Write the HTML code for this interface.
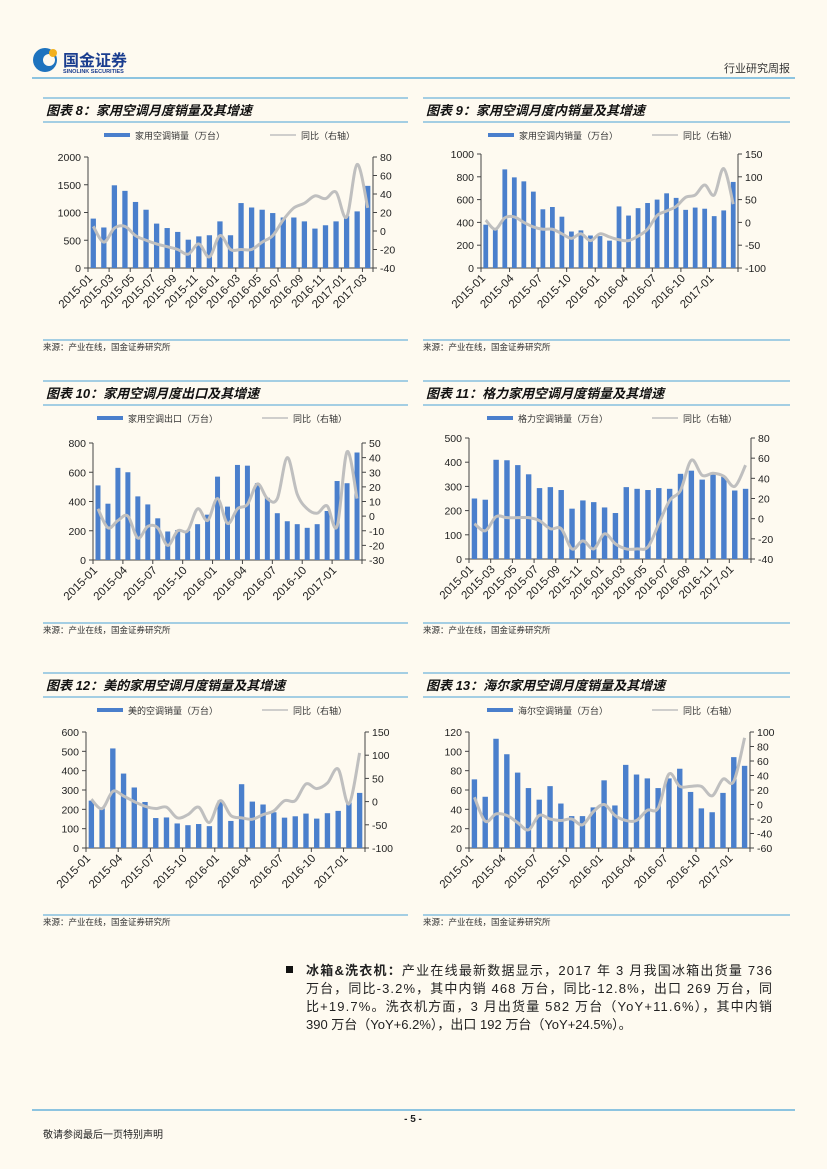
<!DOCTYPE html>
<html><head><meta charset="utf-8">
<style>
body{margin:0;background:#fefaf0;}
#page{position:relative;width:827px;height:1169px;background:#fefaf0;font-family:"Liberation Sans","Noto Sans CJK SC",sans-serif;overflow:hidden}
svg text{font-family:"Liberation Sans","Noto Sans CJK SC",sans-serif}
</style></head>
<body>
<div id="page">
<svg id="svg" width="827" height="1169">
 <g>
  <circle cx="45" cy="60" r="12" fill="#1e73be"/>
  <circle cx="49" cy="60" r="6" fill="#fefaf0"/>
  <circle cx="53" cy="53" r="4" fill="#f2b01e"/>
  <text x="63" y="66" font-size="16" font-weight="bold" fill="#1a3d8f">国金证券</text>
  <text x="63" y="73" font-size="5.5" font-weight="bold" fill="#1a3d8f">SINOLINK SECURITIES</text>
  <text x="790" y="72" font-size="11" text-anchor="end" fill="#333">行业研究周报</text>
  <line x1="32" y1="78" x2="795" y2="78" stroke="#4aa3d6" stroke-width="1.2"/>
 </g>
 <g id="charts"></g>
 <g font-size="13" fill="#222">
  <rect x="286" y="966" width="7" height="7" fill="#111"/>
  <text x="306" y="975" textLength="466" lengthAdjust="spacing"><tspan font-weight="bold">冰箱&amp;洗衣机：</tspan>产业在线最新数据显示，2017 年 3 月我国冰箱出货量 736</text>
  <text x="306" y="993" textLength="466" lengthAdjust="spacing">万台，同比-3.2%，其中内销 468 万台，同比-12.8%，出口 269 万台，同</text>
  <text x="306" y="1011" textLength="466" lengthAdjust="spacing">比+19.7%。洗衣机方面，3 月出货量 582 万台（YoY+11.6%），其中内销</text>
  <text x="306" y="1029">390 万台（YoY+6.2%），出口 192 万台（YoY+24.5%）。</text>
 </g>
 <g>
  <line x1="32" y1="1110" x2="795" y2="1110" stroke="#4aa3d6" stroke-width="1.2"/>
  <text x="413" y="1122" font-size="10" font-weight="bold" text-anchor="middle" fill="#222">- 5 -</text>
  <text x="43" y="1138" font-size="10" fill="#222">敬请参阅最后一页特别声明</text>
 </g>
</svg>
</div>
<script>
const months27=["2015-01","2015-02","2015-03","2015-04","2015-05","2015-06","2015-07","2015-08","2015-09","2015-10","2015-11","2015-12","2016-01","2016-02","2016-03","2016-04","2016-05","2016-06","2016-07","2016-08","2016-09","2016-10","2016-11","2016-12","2017-01","2017-02","2017-03"];
const months26=months27.slice(0,26);
const bars8=[890,730,1490,1390,1190,1050,800,720,650,510,570,590,840,590,1170,1090,1050,990,910,910,840,710,770,840,940,1020,1480];
const yoy8=[5,-12,3,5,-5,-10,-14,-17,-20,-25,-14,-28,-5,-20,-20,-20,-12,-5,12,25,30,38,35,42,15,72,25];
const bars9=[380,340,865,795,760,670,515,535,450,320,330,285,280,240,540,460,525,570,600,655,615,510,530,520,455,505,755];
const yoy9=[5,-15,10,12,0,-10,-15,-15,-25,-35,-25,-40,-25,-32,-38,-40,-30,-15,15,25,35,55,60,82,60,118,40];
const bars10=[510,385,630,600,435,380,285,195,205,200,245,310,570,365,650,645,525,425,320,265,245,220,245,335,540,525,735];
const yoy10=[5,-8,-3,0,-15,-7,-8,-20,-10,-10,5,-3,12,-5,5,8,22,12,12,40,15,5,2,7,-7,44,12];
const bars11=[250,245,410,408,388,350,293,297,285,208,242,235,213,190,297,290,285,293,290,352,365,328,350,340,283,290];
const yoy11=[-5,-12,2,1,1,1,-2,-10,-10,-30,-22,-30,-15,-25,-30,-30,-28,-5,18,28,58,43,45,42,32,53];
const bars12=[245,205,515,385,313,238,155,158,127,118,124,113,245,140,330,240,225,185,157,164,178,152,180,192,235,285];
const yoy12=[5,-15,22,12,0,-10,-15,-12,-35,-28,-12,-45,2,-30,-35,-38,-28,-20,2,2,38,28,40,70,-5,105];
const bars13=[71,53,113,97,78,62,50,64,46,33,33,42,70,44,86,76,72,62,72,82,58,41,37,57,94,85];
const yoy13=[10,-23,-13,-15,-25,-35,-15,-20,-22,-20,-28,-10,0,-15,-22,-22,-8,-5,42,25,25,25,12,35,32,92];

const NS="http://www.w3.org/2000/svg";
const root=document.getElementById('charts');
function el(tag,attrs,parent,txt){const e=document.createElementNS(NS,tag);for(const k in attrs)e.setAttribute(k,attrs[k]);if(txt!==undefined)e.textContent=txt;(parent||root).appendChild(e);return e;}

const charts=[
 {title:"图表 8：家用空调月度销量及其增速",bl:"家用空调销量（万台）",px:43,pw:365,ty:98,L:88,R:373,T:157,B:268,lmax:2000,lstep:500,rmin:-40,rmax:80,rstep:20,cats:months27,bars:bars8,yoy:yoy8,every:2,lgx:104,llx:270},
 {title:"图表 9：家用空调月度内销量及其增速",bl:"家用空调内销量（万台）",px:423,pw:367,ty:98,L:481,R:738,T:154,B:268,lmax:1000,lstep:200,rmin:-100,rmax:150,rstep:50,cats:months27,bars:bars9,yoy:yoy9,every:3,lgx:488,llx:652},
 {title:"图表 10：家用空调月度出口及其增速",bl:"家用空调出口（万台）",px:43,pw:365,ty:381,L:93,R:362,T:443,B:560,lmax:800,lstep:200,rmin:-30,rmax:50,rstep:10,cats:months27,bars:bars10,yoy:yoy10,every:3,lgx:97,llx:262},
 {title:"图表 11：格力家用空调月度销量及其增速",bl:"格力空调销量（万台）",px:423,pw:367,ty:381,L:469,R:751,T:438,B:559,lmax:500,lstep:100,rmin:-40,rmax:80,rstep:20,cats:months26,bars:bars11,yoy:yoy11,every:2,lgx:487,llx:652},
 {title:"图表 12：美的家用空调月度销量及其增速",bl:"美的空调销量（万台）",px:43,pw:365,ty:673,L:86,R:365,T:732,B:848,lmax:600,lstep:100,rmin:-100,rmax:150,rstep:50,cats:months26,bars:bars12,yoy:yoy12,every:3,lgx:97,llx:262},
 {title:"图表 13：海尔家用空调月度销量及其增速",bl:"海尔空调销量（万台）",px:423,pw:367,ty:673,L:469,R:750,T:732,B:848,lmax:120,lstep:20,rmin:-60,rmax:100,rstep:20,cats:months26,bars:bars13,yoy:yoy13,every:3,lgx:487,llx:652}
];

charts.forEach((c,ci)=>{
 const g=el('g',{});
 
 
 const ln=(x1,y1,x2,y2,s,w)=>el('line',{x1,y1,x2,y2,stroke:s,'stroke-width':w},g);
 ln(c.px,c.ty,c.px+c.pw,c.ty,'#4aa3d6',1);
 ln(c.px,c.ty+24,c.px+c.pw,c.ty+24,'#4aa3d6',1);
 const t=el('text',{x:c.px+3,y:c.ty+17,'font-size':13,'font-weight':'bold','font-style':'italic',fill:'#111'},g,c.title);
 
 
 const lg=el('g',{},g);
 
 
 el('rect',{x:c.lgx,y:c.ty+35,width:26,height:4,fill:'#4a7fcc'},lg);
 el('text',{x:c.lgx+31,y:c.ty+41,'font-size':9,fill:'#333'},lg,c.bl);
 el('line',{x1:c.llx,y1:c.ty+37,x2:c.llx+26,y2:c.ty+37,stroke:'#bfbfbf','stroke-width':1.5},lg);
 el('text',{x:c.llx+31,y:c.ty+41,'font-size':9,fill:'#333'},lg,"同比（右轴）");
 const n=c.cats.length, slot=(c.R-c.L)/n;
 const yL=v=>c.B-(v/c.lmax)*(c.B-c.T);
 const yR=v=>c.B-((v-c.rmin)/(c.rmax-c.rmin))*(c.B-c.T);
 const xC=i=>c.L+slot*(i+0.5);
 ln(c.L,c.T,c.L,c.B,'#444',1); ln(c.R,c.T,c.R,c.B,'#444',1); ln(c.L,c.B,c.R,c.B,'#444',1);
 for(let v=0;v<=c.lmax;v+=c.lstep){const y=yL(v);ln(c.L-4,y,c.L,y,'#444',1);
   const tt=el('text',{x:c.L-7,y:y+4,'font-size':10.5,'text-anchor':'end',fill:'#222'},g,v);
   }
 for(let v=c.rmin;v<=c.rmax;v+=c.rstep){const y=yR(v);ln(c.R,y,c.R+4,y,'#444',1);
   const tt=el('text',{x:c.R+7,y:y+4,'font-size':10.5,fill:'#222'},g,v);
   }
 c.bars.forEach((v,i)=>{
   const r=el('rect',{x:xC(i)-slot*0.25,y:yL(v),width:slot*0.5,height:c.B-yL(v),fill:'#4a7fcc'},g);
   
   
 });
 const pts=c.yoy.map((v,i)=>[xC(i),yR(v)]);
 let d='M'+pts[0][0]+','+pts[0][1];
 for(let i=0;i<pts.length-1;i++){const p0=pts[i-1]||pts[i],p1=pts[i],p2=pts[i+1],p3=pts[i+2]||p2;
   d+=` C${p1[0]+(p2[0]-p0[0])/6},${p1[1]+(p2[1]-p0[1])/6} ${p2[0]-(p3[0]-p1[0])/6},${p2[1]-(p3[1]-p1[1])/6} ${p2[0]},${p2[1]}`;}
 const pl=el('path',{d,fill:'none',stroke:'#bfbfbf','stroke-width':3},g);
 
 
 for(let i=0;i<=n;i+=1){ if(i%c.every===0||i===n) ln(c.L+slot*i,c.B,c.L+slot*i,c.B+4,'#444',1);}
 c.cats.forEach((m,i)=>{ if(i%c.every!==0)return;
   const x=c.L+slot*i+5, y=c.B+11;
   const tt=el('text',{x,y,'font-size':11.5,'text-anchor':'end',fill:'#222',transform:`rotate(-45 ${x} ${y})`},g,m);
   
 });
 ln(c.px,c.ty+242,c.px+c.pw,c.ty+242,'#4aa3d6',1);
 const s=el('text',{x:c.px,y:c.ty+252,'font-size':8.5,fill:'#333'},g,"来源：产业在线，国金证券研究所");
 
 
});
</script>
</body></html>
